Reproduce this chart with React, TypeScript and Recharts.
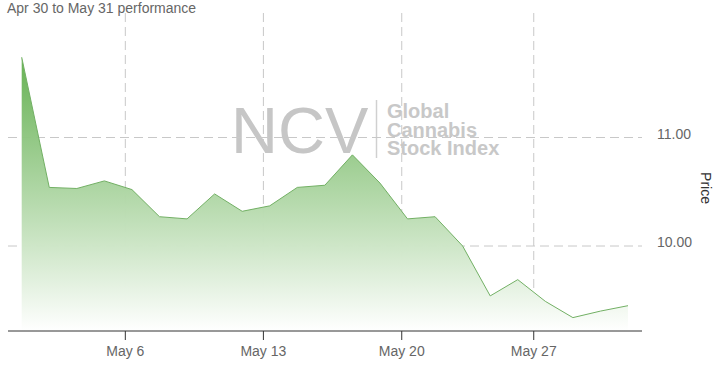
import React from "react";
import { AreaChart, Area, XAxis, YAxis, CartesianGrid } from "recharts";

const dates = ["Apr 30", "May 1", "May 2", "May 3", "May 6", "May 7", "May 8", "May 9", "May 10", "May 13", "May 14", "May 15", "May 16", "May 17", "May 20", "May 21", "May 22", "May 23", "May 24", "May 28", "May 29", "May 30", "May 31"];
const prices = [11.74, 10.54, 10.53, 10.6, 10.52, 10.27, 10.25, 10.48, 10.32, 10.37, 10.54, 10.56, 10.84, 10.58, 10.25, 10.27, 10.0, 9.54, 9.69, 9.49, 9.34, 9.4, 9.45];
const xTickPositions = [3.76, 8.77, 13.79, 18.58];
const xTickLabels = ["May 6", "May 13", "May 20", "May 27"];
const yTicks = [10, 11];
const yDomain = [9.2166, 12.1475];
const watermarkLines = ["Global", "Cannabis", "Stock Index"];

const data = dates.map((d, i) => ({ idx: i, date: d, price: prices[i] }));

const FONT = '"Liberation Sans", Arial, sans-serif';

const XTick = (props: any) => {
  const { x, y, payload } = props;
  const i = xTickPositions.indexOf(payload.value);
  return (
    <text x={x} y={y} dy={16} textAnchor="middle" fill="#666" fontSize={14} fontFamily={FONT}>
      {i >= 0 ? xTickLabels[i] : ""}
    </text>
  );
};

const YTick = (props: any) => {
  const { x, y, payload } = props;
  return (
    <text x={x} y={y} dy={1} textAnchor="start" fill="#666" fontSize={14} fontFamily={FONT}>
      {Number(payload.value).toFixed(2)}
    </text>
  );
};

export default function App() {
  return (
    <div style={{ position: "absolute", left: 0, top: 0, width: 717, height: 366, background: "#fff", fontFamily: FONT }}>
      <svg width={717} height={366} style={{ position: "absolute", left: 0, top: 0 }}>
        <text x={7} y={12.5} fontSize={14} fill="#666" fontFamily={FONT}>Apr 30 to May 31 performance</text>
        <text x={231} y={153} fontSize={65} fill="#c6c6c6" fontFamily={FONT}>NCV</text>
        <line x1={376.5} y1={100} x2={376.5} y2={158} stroke="#d0d0d0" strokeWidth={1.5} />
        <text x={387} y={118} fontSize={20} fontWeight="bold" fill="#c8c8c8" fontFamily={FONT}>
          {watermarkLines.map((l, i) => (
            <tspan key={l} x={387} dy={i === 0 ? 0 : 18.5}>{l}</tspan>
          ))}
        </text>
        <text x={700.5} y={188} fontSize={14} fill="#333" fontFamily={FONT} textAnchor="middle" transform="rotate(90 700.5 188)">Price</text>
      </svg>
      <div style={{ position: "absolute", left: 0, top: 0 }}>
        <AreaChart width={717} height={366} data={data} margin={{ top: 13, right: 0, bottom: 0, left: 8 }}>
          <defs>
            <linearGradient id="areaGrad" x1="0" y1="0" x2="0" y2="1">
              <stop offset="0%" stopColor="#5fae4b" stopOpacity={0.95} />
              <stop offset="100%" stopColor="#ffffff" stopOpacity={1} />
            </linearGradient>
          </defs>
          <CartesianGrid stroke="#c8c8c8" strokeDasharray="9 5" syncWithTicks />
          <XAxis
            dataKey="idx"
            type="number"
            domain={[0, dates.length - 1]}
            ticks={xTickPositions}
            interval={0}
            padding={{ left: 13.7, right: 14 }}
            height={35}
            axisLine={{ stroke: "#333" }}
            tickLine={{ stroke: "#333" }}
            tickSize={9}
            tickMargin={0}
            tick={<XTick />}
          />
          <YAxis
            orientation="right"
            type="number"
            domain={yDomain}
            ticks={yTicks}
            allowDataOverflow
            width={75}
            axisLine={false}
            tickLine={false}
            tickSize={0}
            tickMargin={15}
            tick={<YTick />}
          />
          <Area
            type="linear"
            dataKey="price"
            stroke="#72b064"
            strokeWidth={1}
            fill="url(#areaGrad)"
            fillOpacity={1}
            baseValue="dataMin"
            dot={false}
            activeDot={false}
            isAnimationActive={false}
          />
        </AreaChart>
      </div>
    </div>
  );
}
